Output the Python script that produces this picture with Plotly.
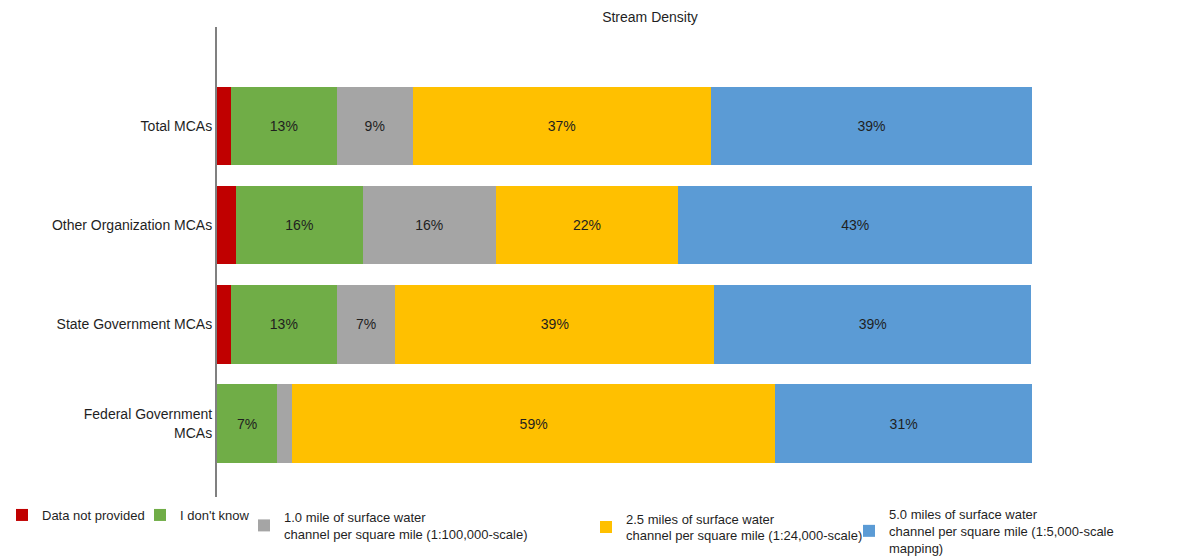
import plotly.graph_objects as go

categories = ["Federal Government<br>MCAs", "State Government MCAs",
              "Other Organization MCAs", "Total MCAs"]

series_names = [
    "Data not provided",
    "I don't know",
    "1.0 mile of surface water<br>channel per square mile (1:100,000-scale)",
    "2.5 miles of surface water<br>channel per square mile (1:24,000-scale)",
    "5.0 miles of surface water<br>channel per square mile (1:5,000-scale<br>mapping)",
]

not_provided = [0.0, 1.7, 2.3, 1.7]
dont_know = [7.4, 13.0, 15.6, 13.0]
one_mile = [1.8, 7.2, 16.3, 9.3]
two_half_miles = [59.3, 39.1, 22.4, 36.6]
five_miles = [31.5, 38.9, 43.4, 39.4]

labels_not_provided = ["", "", "", ""]
labels_dont_know = ["7%", "13%", "16%", "13%"]
labels_one_mile = ["", "7%", "16%", "9%"]
labels_two_half = ["59%", "39%", "22%", "37%"]
labels_five = ["31%", "39%", "43%", "39%"]

colors = ["#C00000", "#70AD47", "#A5A5A5", "#FFC000", "#5B9BD5"]

values = [not_provided, dont_know, one_mile, two_half_miles, five_miles]
labels = [labels_not_provided, labels_dont_know, labels_one_mile,
          labels_two_half, labels_five]

FONT = "Liberation Sans, Arial, sans-serif"
TXT = "#1f1f1f"

fig = go.Figure()
legend_ids = ["legend2", "legend3", "legend4", "legend5", "legend6"]
for name, vals, lab, col, lg in zip(series_names, values, labels, colors, legend_ids):
    fig.add_trace(go.Bar(
        y=categories, x=vals, orientation="h", name=name,
        marker=dict(color=col, line=dict(width=0)),
        text=lab, textposition="inside", insidetextanchor="middle",
        textangle=0,
        textfont=dict(family=FONT, size=14, color=TXT),
        hoverinfo="x+name", legend=lg,
    ))

# page body adds an 8px offset; figure coordinates = screen - 8
OFF = 8
W, H = 1178 - OFF, 557 - OFF
PL, PR, PT, PB = 217 - OFF, 1032 - OFF, 27 - OFF, 497 - OFF
text_x = [42, 180, 284, 626, 889]
legend_y = [515, 515, 525.5, 527, 531]

layout_legends = {}
for lg, tx, ly in zip(legend_ids, text_x, legend_y):
    layout_legends[lg] = dict(
        xref="paper", yref="paper",
        x=(tx - OFF - 40 - PL) / (PR - PL),
        y=(PB - (ly - OFF)) / (PB - PT),
        xanchor="left", yanchor="middle",
        font=dict(family=FONT, size=13, color=TXT),
        bgcolor="rgba(0,0,0,0)", valign="middle",
    )

fig.update_layout(
    width=W, height=H,
    barmode="stack", bargap=0.21,
    plot_bgcolor="white", paper_bgcolor="white",
    margin=dict(l=PL, r=W - PR, t=PT, b=H - PB, autoexpand=False),
    font=dict(family=FONT, size=14, color=TXT),
    title=dict(text="Stream Density", x=(650 - OFF) / W, xanchor="center",
               xref="container", yref="container", y=1 - (17 - OFF) / H,
               yanchor="middle",
               font=dict(family=FONT, size=14, color=TXT)),
    **layout_legends,
)
fig.update_xaxes(range=[0, 100], visible=False, showgrid=False, zeroline=False)
fig.update_yaxes(range=[-0.74, 4.0], showline=True, linecolor="#808080", linewidth=2,
                 showgrid=False, ticks="", automargin=False,
                 tickfont=dict(family=FONT, size=14, color=TXT))

fig.write_html("out.html")
